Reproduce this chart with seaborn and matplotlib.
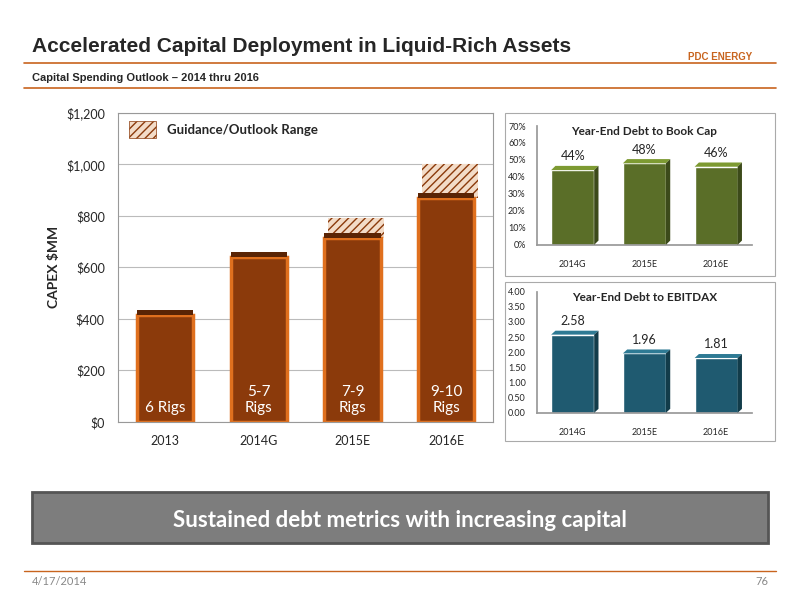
import matplotlib
matplotlib.use("Agg")
import matplotlib.pyplot as plt
import seaborn as sns
import pandas as pd
import numpy as np
from matplotlib.patches import Rectangle, Polygon

sns.set_theme(style="white")
plt.rcParams['font.family'] = ['Lato', 'DejaVu Sans']

years = ["2013", "2014G", "2015E", "2016E"]
capex = [415, 640, 715, 870]
capex_high = [415, 640, 790, 1000]
rigs = ["6 Rigs", "5-7\nRigs", "7-9\nRigs", "9-10\nRigs"]
dy = ["2014G", "2015E", "2016E"]
book_cap = [44, 48, 46]
ebitdax = [2.58, 1.96, 1.81]

ORANGE = "#c8641e"
ARIAL = ['Liberation Sans', 'DejaVu Sans']
fig = plt.figure(figsize=(8, 6), dpi=100)
fig.patch.set_facecolor("white")

def depth(ax, bars, top, side, dx, dyv):
    for b in bars:
        x0, w, h = b.get_x(), b.get_width(), b.get_height()
        ax.add_patch(Polygon([(x0, h), (x0+w, h), (x0+w+dx, h+dyv), (x0+dx, h+dyv)], closed=True, fc=top, ec="none", zorder=3))
        ax.add_patch(Polygon([(x0+w, 0), (x0+w+dx, dyv), (x0+w+dx, h+dyv), (x0+w, h)], closed=True, fc=side, ec="none", zorder=3))

fig.text(0.04, 0.913, "Accelerated Capital Deployment in Liquid-Rich Assets", fontsize=15, fontweight="bold", family=ARIAL)
fig.add_artist(plt.Line2D([0.03, 0.97], [0.895, 0.895], color=ORANGE, lw=1.2))
fig.text(0.04, 0.865, "Capital Spending Outlook \u2013 2014 thru 2016", fontsize=8, fontweight="bold", family=ARIAL)
fig.add_artist(plt.Line2D([0.03, 0.97], [0.853, 0.853], color=ORANGE, lw=1.2))
fig.text(0.94, 0.9, "PDC ENERGY", fontsize=7, fontweight="bold", color=ORANGE, ha="right", family=ARIAL)

# main chart
ax = fig.add_axes([0.1475, 0.297, 0.469, 0.515])
df = pd.DataFrame({"year": years, "capex": capex})
sns.barplot(data=df, x="year", y="capex", color="#8b3a0b", saturation=1, width=0.6, ax=ax, zorder=2)
bars = list(ax.patches)
for b, hi in zip(bars, capex_high):
    b.set_edgecolor("#e0701e"); b.set_linewidth(2.5)
    if hi > b.get_height():
        ax.add_patch(Rectangle((b.get_x()+0.04, b.get_height()), b.get_width(), hi-b.get_height(), fc="#f3dcc8", ec="#8b3a0b", hatch="////", lw=0, zorder=1))
depth(ax, bars, "#5a2405", "#6e2c06", 0.0, 20)
for b, r in zip(bars, rigs):
    ax.text(b.get_x()+b.get_width()/2, 25, r, ha="center", va="bottom", color="white", fontsize=11)
ax.set_ylim(0, 1200); ax.set_yticks(range(0, 1201, 200))
ax.set_yticklabels(["$0", "$200", "$400", "$600", "$800", "$1,000", "$1,200"], fontsize=9)
ax.set_xlim(-0.5, 3.5)
ax.tick_params(axis="x", labelsize=9)
ax.set_xlabel(""); ax.set_ylabel("CAPEX $MM", fontsize=10, fontweight="bold")
ax.yaxis.grid(True, color="#bbbbbb", lw=0.8); ax.set_axisbelow(True)
for s in ax.spines.values(): s.set_color("#999999"); s.set_linewidth(0.8)
ax.add_patch(Rectangle((0.03, 0.92), 0.07, 0.055, transform=ax.transAxes, fc="#f3dcc8", ec="#8b3a0b", hatch="////", lw=0.5))
ax.text(0.13, 0.945, "Guidance/Outlook Range", transform=ax.transAxes, fontsize=9.5, fontweight="bold", va="center")

def small(rect, vals, color, top, side, ylim, step, fmt, title, lblfmt, dz):
    a = fig.add_axes(rect)
    d = pd.DataFrame({"x": dy, "v": vals})
    sns.barplot(data=d, x="x", y="v", color=color, saturation=1, width=0.6, ax=a, zorder=2)
    bs = list(a.patches)
    depth(a, bs, top, side, 0.06, dz)
    for b, v in zip(bs, vals):
        a.text(b.get_x()+b.get_width()/2, v+dz+ylim*0.03, lblfmt(v), ha="center", va="bottom", fontsize=9)
    a.set_ylim(0, ylim)
    ticks = np.arange(0, ylim+step/2, step)
    a.set_yticks(ticks); a.set_yticklabels([fmt(t) for t in ticks], fontsize=6.5)
    a.tick_params(axis="x", labelsize=6.5, pad=5)
    a.tick_params(axis="y", pad=2)
    a.set_xlabel(""); a.set_ylabel("")
    for s in a.spines.values(): s.set_visible(False)
    a.spines["left"].set_visible(True); a.spines["bottom"].set_visible(True)
    a.spines["left"].set_color("#999999"); a.spines["bottom"].set_color("#999999")
    a.text(0.5, 1.0, title, transform=a.transAxes, ha="center", va="top", fontsize=8.5, fontweight="bold")

small([0.671, 0.592, 0.269, 0.198], book_cap, "#5a6e28", "#7d9a32", "#3c4a1a", 70, 10,
      lambda t: f"{int(t)}%", "Year-End Debt to Book Cap", lambda v: f"{v}%", 2.5)
small([0.671, 0.312, 0.269, 0.202], ebitdax, "#1f5a70", "#2e7a94", "#123c4a", 4.0, 0.5,
      lambda t: f"{t:.2f}", "Year-End Debt to EBITDAX", lambda v: f"{v:.2f}", 0.13)

for r in [(0.631, 0.54, 0.338, 0.272), (0.631, 0.265, 0.338, 0.265)]:
    fig.add_artist(Rectangle(r[:2], r[2], r[3], transform=fig.transFigure, fill=False, ec="#aaaaaa", lw=0.8))

fig.add_artist(Rectangle((0.04, 0.095), 0.92, 0.085, transform=fig.transFigure, fc="#7d7d7d", ec="#555555", lw=2))
fig.text(0.5, 0.133, "Sustained debt metrics with increasing capital", ha="center", va="center", fontsize=16, fontweight="bold", color="white")
fig.add_artist(plt.Line2D([0.03, 0.97], [0.048, 0.048], color=ORANGE, lw=1))
fig.text(0.04, 0.025, "4/17/2014", fontsize=8, color="#888888")
fig.text(0.96, 0.025, "76", fontsize=8, color="#888888", ha="right")

fig.savefig("out.png", dpi=100)
